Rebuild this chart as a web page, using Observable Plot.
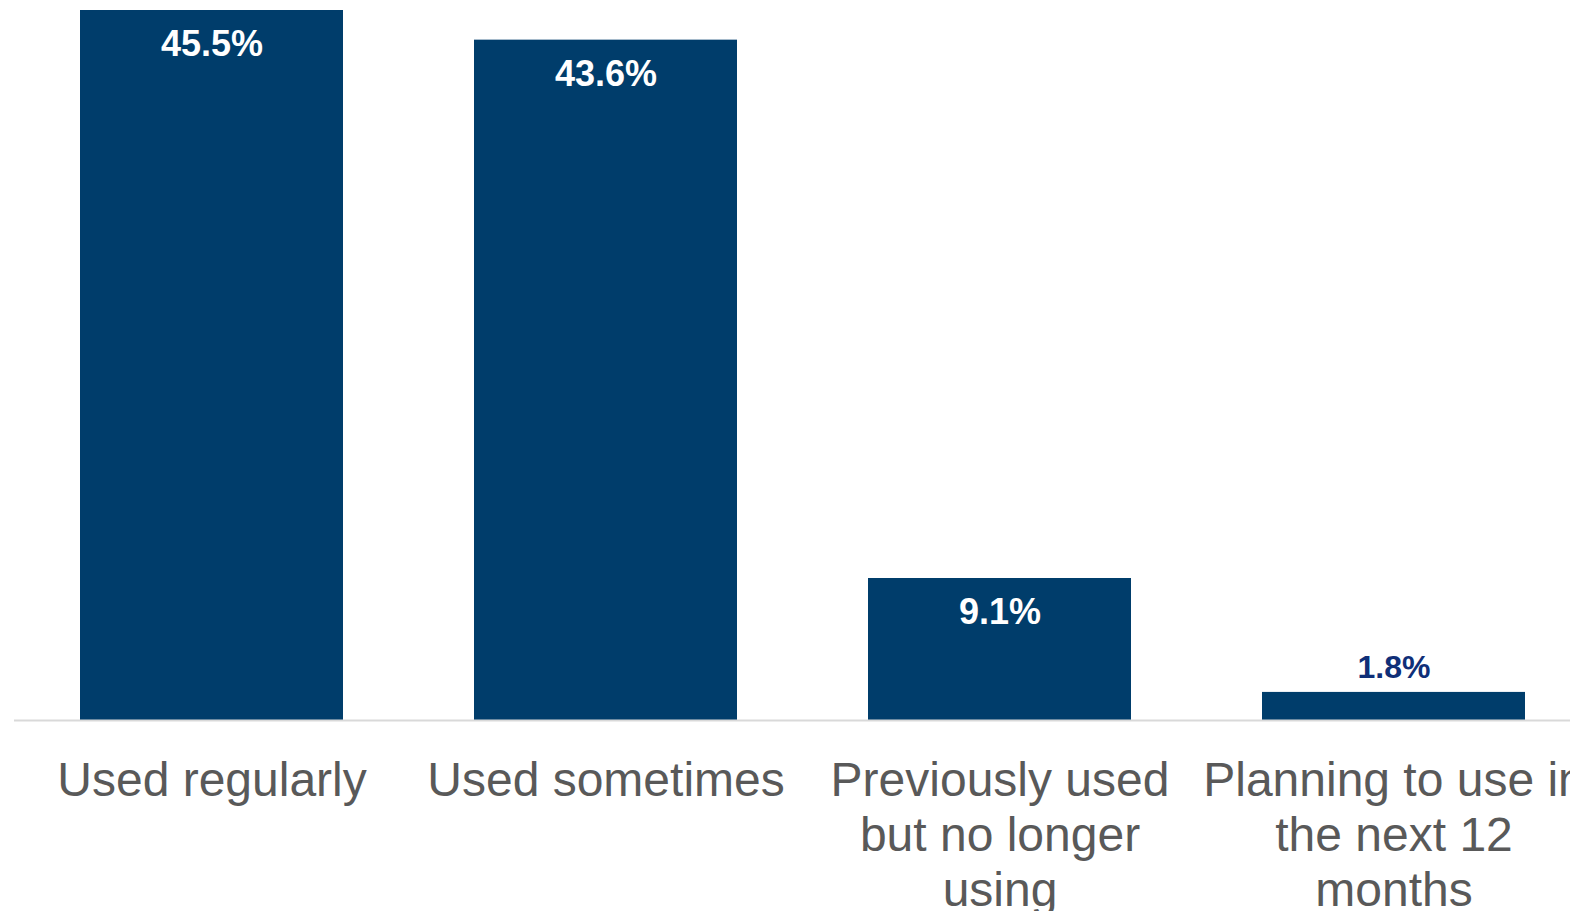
<!DOCTYPE html>
<html>
<head>
<meta charset="utf-8">
<script src="https://cdn.jsdelivr.net/npm/d3@7"></script>
<script src="https://cdn.jsdelivr.net/npm/@observablehq/plot@0.6"></script>
<style>
  html, body { margin: 0; padding: 0; background: #fff; overflow: hidden; }
  #chart svg { display: block; overflow: visible; }
</style>
</head>
<body>
<div id="chart"></div>
<script>
// Usage status categories (axis labels, wrapped onto lines)
const categories = [
  "Used regularly",
  "Used sometimes",
  "Previously used\nbut no longer\nusing",
  "Planning to use in\nthe next 12\nmonths"
];
// Share of respondents, percent
const shares = [45.5, 43.6, 9.1, 1.8];

const data = categories.map((c, i) => ({category: c, share: shares[i]}));
const fmt = d => d.share.toFixed(1) + "%";
const font = "Arial, 'Liberation Sans', Helvetica, sans-serif";

const chart = Plot.plot({
  width: 1570,
  height: 911,
  marginTop: 10,
  marginLeft: 14,
  marginRight: 0,
  marginBottom: 191,
  style: {fontFamily: font, background: "#fff", overflow: "visible"},
  x: {domain: categories, range: [14, 1590], paddingInner: 1 / 3, paddingOuter: 1 / 6, label: null},
  y: {domain: [0, 45.5], axis: null},
  marks: [
    Plot.barY(data, {x: "category", y: "share", fill: "#003d6b"}),
    Plot.ruleY([0], {stroke: "#d9d9d9", strokeWidth: 2}),
    Plot.axisX({
      tickSize: 0,
      tickPadding: 36,
      fontSize: 48,
      fill: "#595959",
      lineHeight: 55 / 48,
      label: null
    }),
    // Values large enough sit inside the top of the bar
    Plot.text(data.filter(d => d.share > 5), {
      x: "category", y: "share", text: fmt, dy: 34,
      fill: "#fff", fontSize: 36, fontWeight: "bold"
    }),
    // Small values sit just above the bar
    Plot.text(data.filter(d => d.share <= 5), {
      x: "category", y: "share", text: fmt, dy: -25,
      fill: "#0f2f78", fontSize: 32, fontWeight: "bold"
    })
  ]
});
document.getElementById("chart").append(chart);
</script>
</body>
</html>
